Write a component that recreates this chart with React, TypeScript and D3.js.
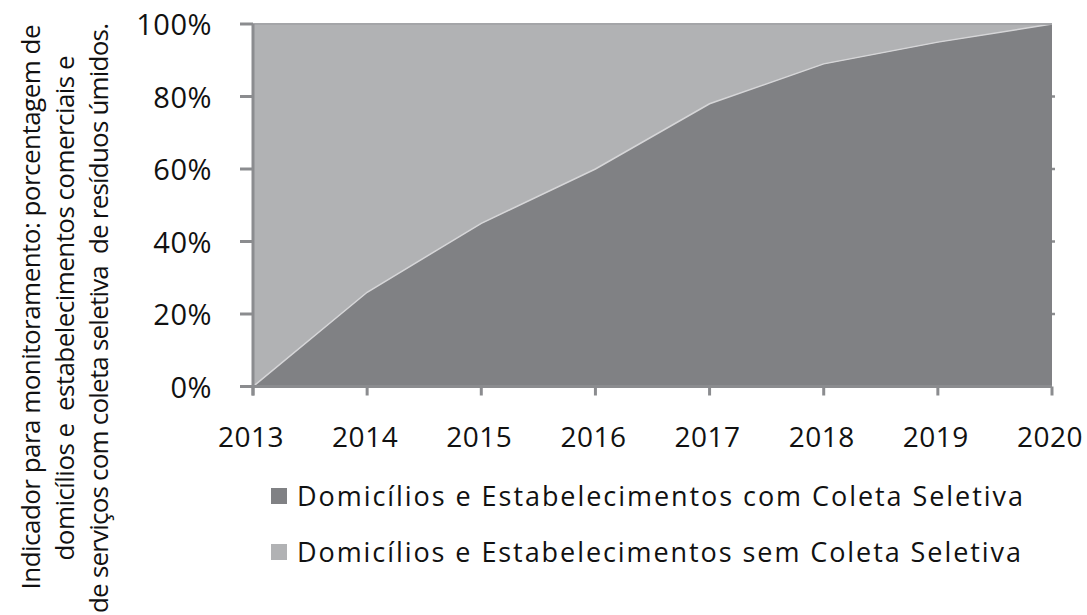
import React, { useEffect, useRef } from 'react';
import * as d3 from 'd3';

const years = [2013, 2014, 2015, 2016, 2017, 2018, 2019, 2020];
const comColeta = [0, 26, 45, 60, 78, 89, 95, 100];
const semColeta = [100, 74, 55, 40, 22, 11, 5, 0];
const yTicks = [0, 20, 40, 60, 80, 100];
const legendLabels = [
  'Domicílios e Estabelecimentos com Coleta Seletiva',
  'Domicílios e Estabelecimentos sem Coleta Seletiva',
];
const titleLines = [
  'Indicador para monitoramento: porcentagem de',
  'domicílios e  estabelecimentos comerciais e',
  'de serviços com coleta seletiva  de resíduos úmidos.',
];

const W = 1087;
const H = 615;
const DARK = '#808184';
const LIGHT = '#b1b2b4';
const AXIS = '#8b8c8f';
const INK = '#111';
const FONT = '"Open Sans", "Noto Sans", sans-serif';

export default function App() {
  const svgRef = useRef<SVGSVGElement>(null);

  useEffect(() => {
    if (!svgRef.current) return;
    const svg = d3.select(svgRef.current);
    svg.selectAll('*').remove();

    const x = d3.scaleLinear().domain([2013, 2020]).range([253, 1052]);
    const y = d3.scaleLinear().domain([0, 100]).range([386.5, 24]);

    const rows = years.map((yr, i) => ({ yr, com: comColeta[i], sem: semColeta[i] }));

    // stacked: com at bottom, sem on top
    const areaCom = d3.area<typeof rows[0]>()
      .x(d => x(d.yr))
      .y0(y(0))
      .y1(d => y(d.com));
    const areaSem = d3.area<typeof rows[0]>()
      .x(d => x(d.yr))
      .y0(d => y(d.com))
      .y1(d => y(d.com + d.sem));

    // little grid stubs poking out on the right edge
    svg.selectAll('.grid')
      .data(yTicks.slice(1, -1))
      .enter().append('line')
      .attr('x1', x(2020)).attr('x2', x(2020) + 3)
      .attr('y1', d => y(d)).attr('y2', d => y(d))
      .style('stroke', AXIS).style('stroke-width', 2.5);

    svg.append('path').datum(rows).attr('d', areaSem).style('fill', LIGHT);
    svg.append('path').datum(rows).attr('d', areaCom).style('fill', DARK);

    // light boundary between the two series
    const boundary = d3.line<typeof rows[0]>().x(d => x(d.yr)).y(d => y(d.com));
    svg.append('path').datum(rows).attr('d', boundary)
      .style('fill', 'none').style('stroke', '#d6d6d8').style('stroke-width', 1.5);

    // top edge
    svg.append('line')
      .attr('x1', x(2013)).attr('x2', x(2020))
      .attr('y1', y(100)).attr('y2', y(100))
      .style('stroke', '#a4a5a8').style('stroke-width', 2);

    // y axis
    svg.append('line')
      .attr('x1', x(2013)).attr('x2', x(2013))
      .attr('y1', y(100)).attr('y2', y(0) + 9)
      .style('stroke', AXIS).style('stroke-width', 3);
    svg.selectAll('.ytick')
      .data(yTicks)
      .enter().append('line')
      .attr('x1', x(2013) - 13).attr('x2', x(2013))
      .attr('y1', d => y(d)).attr('y2', d => y(d))
      .style('stroke', AXIS).style('stroke-width', 3);
    svg.selectAll('.ylabel')
      .data(yTicks)
      .enter().append('text')
      .attr('x', 212)
      .attr('y', d => y(d) + 11)
      .text(d => `${d}%`)
      .style('text-anchor', 'end')
      .style('font-family', FONT)
      .style('font-size', '29px')
      .style('letter-spacing', '0.5px')
      .style('fill', INK);

    // x axis
    svg.append('line')
      .attr('x1', x(2013)).attr('x2', x(2020))
      .attr('y1', y(0)).attr('y2', y(0))
      .style('stroke', AXIS).style('stroke-width', 3);
    svg.selectAll('.xtick')
      .data(years)
      .enter().append('line')
      .attr('x1', d => x(d)).attr('x2', d => x(d))
      .attr('y1', y(0)).attr('y2', y(0) + 9)
      .style('stroke', AXIS).style('stroke-width', 3);
    svg.selectAll('.xlabel')
      .data(years)
      .enter().append('text')
      .attr('x', d => x(d) - 2)
      .attr('y', 447)
      .text(d => d)
      .style('text-anchor', 'middle')
      .style('font-family', FONT)
      .style('font-size', '28px')
      .style('letter-spacing', '0.5px')
      .style('fill', INK);

    // y axis title, rotated
    const titleLen = [565, 505, 590];
    svg.selectAll('.title')
      .data(titleLines)
      .enter().append('text')
      .attr('transform', (d, i) => `translate(${40 + i * 34},${[307, 308, 318][i]}) rotate(-90)`)
      .attr('textLength', (d, i) => titleLen[i])
      .attr('lengthAdjust', 'spacing')
      .text(d => d)
      .style('text-anchor', 'middle')
      .style('font-family', FONT)
      .style('font-size', '26px')
      .style('white-space', 'pre')
      .style('fill', INK);

    // legend
    const colors = [DARK, LIGHT];
    const lg = svg.selectAll('.legend')
      .data(legendLabels)
      .enter().append('g')
      .attr('transform', (d, i) => `translate(271,${488 + i * 56})`);
    lg.append('rect')
      .attr('width', 16).attr('height', 16)
      .style('fill', (d, i) => colors[i]);
    lg.append('text')
      .attr('x', 26).attr('y', 17.5)
      .attr('textLength', (d, i) => [726, 724][i])
      .attr('lengthAdjust', 'spacing')
      .text(d => d)
      .style('font-family', FONT)
      .style('font-size', '27px')
      .style('fill', INK);
  }, []);

  return (
    <div style={{ position: 'absolute', left: 0, top: 0, width: W, height: H, background: '#fff' }}>
      <svg ref={svgRef} width={W} height={H}></svg>
    </div>
  );
}
